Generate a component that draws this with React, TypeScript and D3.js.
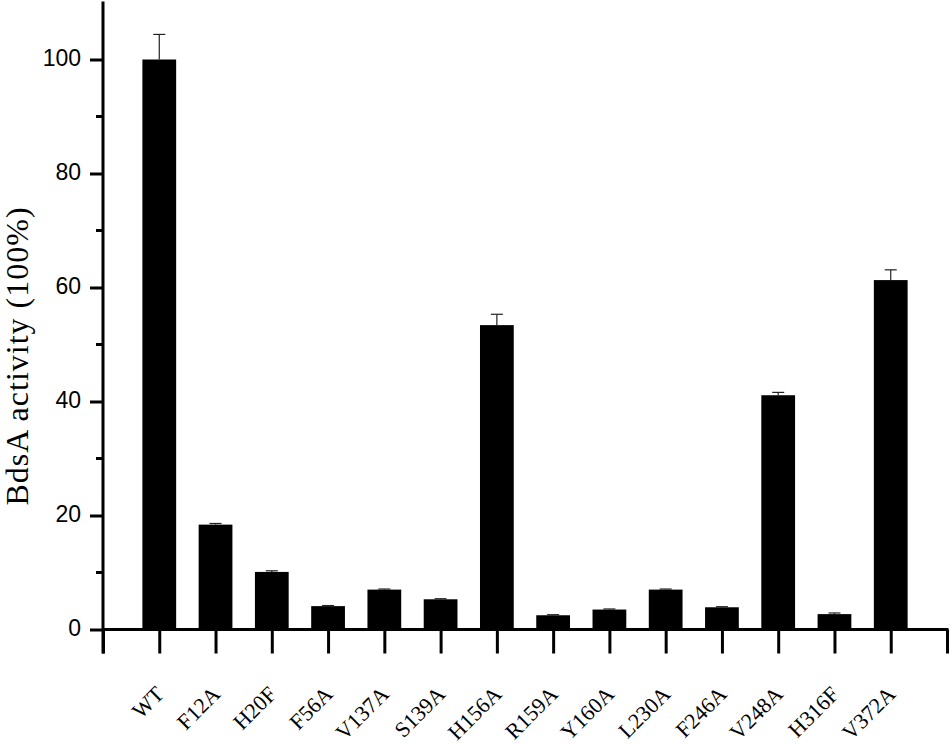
import React, { useEffect, useRef } from 'react';
import * as d3 from 'd3';

const categories = ["WT", "F12A", "H20F", "F56A", "V137A", "S139A", "H156A", "R159A", "Y160A", "L230A", "F246A", "V248A", "H316F", "V372A"];
const activity = [100, 18.4, 10.1, 4.1, 7.0, 5.3, 53.4, 2.5, 3.5, 7.0, 3.9, 41.1, 2.7, 61.3];
const errors = [4.4, 0.2, 0.2, 0.1, 0.1, 0.1, 1.9, 0.1, 0.1, 0.1, 0.1, 0.5, 0.2, 1.8];
const yMajorTicks = [0, 20, 40, 60, 80, 100];
const yMinorTicks = [10, 30, 50, 70, 90];
const yTitle = "BdsA activity (100%)";

const App = () => {
    const ref = useRef<SVGSVGElement>(null);

    useEffect(() => {
        const svg = d3.select(ref.current);
        svg.selectAll("*").remove();

        const left = 103, right = 947, bottom = 629.5, top = 2.5;
        const x = d3.scaleLinear().domain([0, categories.length + 1]).range([left, right]);
        const y = d3.scaleLinear().domain([0, 110]).range([bottom, top]);
        const step = x(1) - x(0);
        const barW = step * 0.6;
        const data = categories.map((c, i) => ({ c, i: i + 1, v: activity[i], e: errors[i] }));

        // bars
        svg.append("g").selectAll("rect")
            .data(data)
            .enter()
            .append("rect")
            .attr("x", d => x(d.i) - barW / 2)
            .attr("y", d => y(d.v))
            .attr("width", barW)
            .attr("height", d => y(0) - y(d.v))
            .attr("fill", "#000");

        // error bars (upper only)
        const err = svg.append("g").attr("stroke", "#222").attr("stroke-width", 1.2);
        err.selectAll(".stem")
            .data(data)
            .enter()
            .append("line")
            .attr("x1", d => x(d.i)).attr("x2", d => x(d.i))
            .attr("y1", d => y(d.v)).attr("y2", d => y(d.v + d.e));
        err.selectAll(".cap")
            .data(data)
            .enter()
            .append("line")
            .attr("x1", d => x(d.i) - 6).attr("x2", d => x(d.i) + 6)
            .attr("y1", d => y(d.v + d.e)).attr("y2", d => y(d.v + d.e));

        // y axis
        const yAxis = svg.append("g")
            .attr("transform", "translate(" + left + ",0)")
            .call(d3.axisLeft(y).tickValues(yMajorTicks).tickSize(13).tickSizeOuter(0).tickPadding(9));
        yAxis.select(".domain").remove();
        yAxis.selectAll("line").attr("stroke", "#000").attr("stroke-width", 3);
        yAxis.selectAll("text")
            .attr("font-family", "'Liberation Sans', Arial, sans-serif")
            .attr("font-size", 23)
            .attr("fill", "#000")
            .attr("dy", "0.26em");

        svg.append("g").selectAll("line")
            .data(yMinorTicks)
            .enter()
            .append("line")
            .attr("x1", left - 7).attr("x2", left)
            .attr("y1", d => y(d)).attr("y2", d => y(d))
            .attr("stroke", "#000").attr("stroke-width", 3);

        // x axis, ticks at every integer position
        const xAxis = svg.append("g")
            .attr("transform", "translate(0," + bottom + ")")
            .call(d3.axisBottom(x).tickValues(d3.range(0, categories.length + 2)).tickSize(24).tickSizeOuter(0).tickFormat(() => ""));
        xAxis.select(".domain").remove();
        xAxis.selectAll("line").attr("stroke", "#000").attr("stroke-width", 3);

        // axis lines
        svg.append("line")
            .attr("x1", left).attr("x2", left)
            .attr("y1", top - 1).attr("y2", bottom + 24)
            .attr("stroke", "#000").attr("stroke-width", 3);
        svg.append("line")
            .attr("x1", left).attr("x2", right + 1.5)
            .attr("y1", bottom).attr("y2", bottom)
            .attr("stroke", "#000").attr("stroke-width", 3);

        // x labels
        svg.append("g").selectAll("text")
            .data(data)
            .enter()
            .append("text")
            .attr("transform", d => "translate(" + (x(d.i) + 6) + "," + (bottom + 66) + ") rotate(-45)")
            .attr("text-anchor", "end")
            .attr("font-family", "'Liberation Serif', 'Times New Roman', serif")
            .attr("font-size", 22)
            .attr("fill", "#000")
            .text(d => d.c);

        // y title
        svg.append("text")
            .attr("transform", "translate(28,356) rotate(-90)")
            .attr("text-anchor", "middle")
            .attr("font-family", "'Liberation Serif', 'Times New Roman', serif")
            .attr("font-size", 32)
            .attr("letter-spacing", 1)
            .attr("fill", "#000")
            .text(yTitle);
    }, []);

    return (
        <svg ref={ref} width={950} height={746}
            style={{ position: "absolute", left: 0, top: 0, background: "#fff" }} />
    );
};

export default App;
